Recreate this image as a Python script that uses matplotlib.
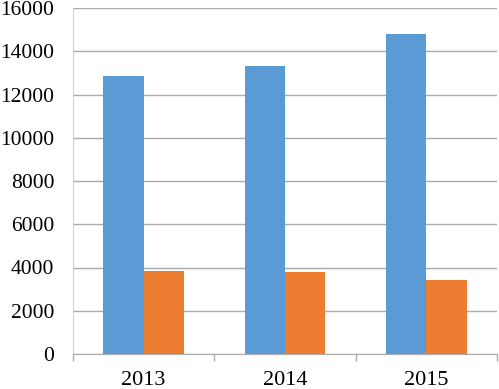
import numpy as np
import matplotlib.pyplot as plt
import matplotlib as mpl

mpl.rcParams['font.family'] = ['Liberation Serif', 'DejaVu Serif']

# values
years = ['2013', '2014', '2015']
series_blue = [12870, 13330, 14800]
series_orange = [3850, 3800, 3430]

fig = plt.figure(figsize=(4.99, 3.89), dpi=100)
ax = fig.add_axes([73 / 499, 1 - 354 / 389, 424 / 499, 346 / 389])

x = np.arange(len(years))
width = 1 / 3.5
ax.bar(x - width / 2, series_blue, width, color='#5B9BD5', zorder=3)
ax.bar(x + width / 2, series_orange, width, color='#ED7D31', zorder=3)

ax.set_xlim(-0.5, len(years) - 0.5)
ax.set_ylim(0, 16000)
ax.set_yticks(range(0, 16001, 2000))
ax.yaxis.grid(True, color='#ABABAB', linewidth=1.0, zorder=0)
ax.tick_params(axis='y', length=0, pad=13.5, labelsize=15.5)

# category ticks at boundaries, labels centred
ax.set_xticks(np.arange(-0.5, len(years)), minor=False)
ax.set_xticklabels([])
ax.set_xticks(x, minor=True)
ax.set_xticklabels(years, minor=True)
ax.tick_params(axis='x', which='major', length=5, color='#ABABAB', width=1)
ax.tick_params(axis='x', which='minor', length=0, pad=12.5, labelsize=16)

for side in ['top', 'right']:
    ax.spines[side].set_visible(False)
ax.spines['left'].set_color('#D0D0D0')
ax.spines['bottom'].set_color('#ABABAB')
ax.spines['bottom'].set_zorder(4)

fig.savefig('out.png', dpi=100)
